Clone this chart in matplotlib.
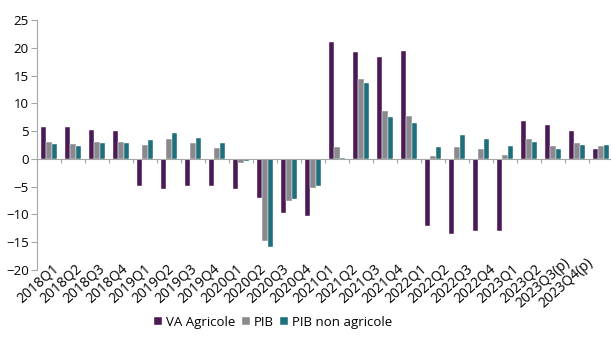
import numpy as np
import matplotlib.pyplot as plt

plt.rcParams["font.family"] = ["Open Sans", "DejaVu Sans"]

quarters = [
    "2018Q1", "2018Q2", "2018Q3", "2018Q4",
    "2019Q1", "2019Q2", "2019Q3", "2019Q4",
    "2020Q1", "2020Q2", "2020Q3", "2020Q4",
    "2021Q1", "2021Q2", "2021Q3", "2021Q4",
    "2022Q1", "2022Q2", "2022Q3", "2022Q4",
    "2023Q1", "2023Q2", "2023Q3(p)", "2023Q4(p)",
]

va_agricole = [5.8, 5.8, 5.2, 5.0, -4.9, -5.4, -4.9, -4.8,
               -5.4, -7.1, -9.8, -10.2, 21.1, 19.2, 18.3, 19.5,
               -12.1, -13.5, -13.0, -13.0, 6.9, 6.2, 5.0, 1.7]
pib = [3.0, 2.7, 3.1, 3.0, 2.5, 3.6, 2.9, 1.9,
       -0.8, -14.7, -7.5, -5.3, 2.2, 14.4, 8.7, 7.7,
       0.5, 2.2, 1.7, 0.7, 3.5, 2.3, 2.8, 2.4]
pib_non_agricole = [2.6, 2.3, 2.8, 2.8, 3.4, 4.7, 3.8, 2.8,
                    -0.4, -15.8, -7.2, -4.9, 0.1, 13.7, 7.6, 6.4,
                    2.2, 4.3, 3.5, 2.3, 3.1, 1.8, 2.5, 2.5]

series = [
    ("VA Agricole", va_agricole, "#4b1a55"),
    ("PIB", pib, "#8a8a8e"),
    ("PIB non agricole", pib_non_agricole, "#1e6f7a"),
]

fig = plt.figure(figsize=(6.11, 3.47), dpi=100)
ax = fig.add_axes([0.0606, 0.222, 0.9427, 0.72])

x = np.arange(len(quarters))
w = 0.22
for i, (name, vals, col) in enumerate(series):
    ax.bar(x + (i - 1) * w, vals, width=w, color=col, label=name,
           edgecolor="white", linewidth=0.3)

ax.set_xlim(-0.5, len(quarters) - 0.5)
ax.set_ylim(-20, 25)
ax.set_yticks(range(-20, 26, 5))
ax.tick_params(axis="y", labelsize=9.5, length=4, color="#a6a6a6", pad=2)

# boundary ticks on the zero line, category labels below the plot
ax.set_xticks(np.arange(len(quarters) + 1) - 0.5)
ax.set_xticklabels([])
ax.tick_params(axis="x", length=3, color="#a6a6a6", direction="out")
# labels are packed a little tighter than the bar groups
label_x = x * 0.957 - 0.45
for lx, lab in zip(label_x, quarters):
    ax.text(lx, -22.4, lab, rotation=42, ha="center", va="center",
            fontsize=10, rotation_mode="anchor", clip_on=False)

for s in ["top", "right"]:
    ax.spines[s].set_visible(False)
ax.spines["left"].set_color("#a6a6a6")
ax.spines["bottom"].set_color("#a6a6a6")
ax.spines["bottom"].set_position(("data", 0))

ax.legend(loc="center", bbox_to_anchor=(0.41, -0.21), ncol=3,
          frameon=False, fontsize=9.5, handlelength=0.6, handleheight=0.6,
          handletextpad=0.3, columnspacing=0.5)

fig.savefig("out.png", dpi=100)
